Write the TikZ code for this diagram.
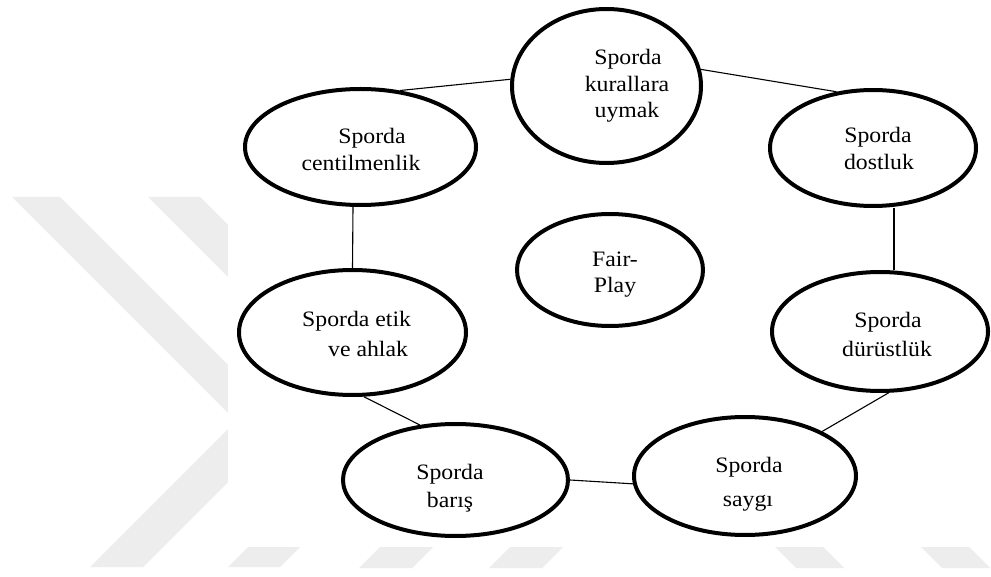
\documentclass[tikz,border=0pt]{standalone}
\usepackage{fontspec}
\setmainfont[FakeStretch=1.08]{Liberation Serif}
\usetikzlibrary{shapes.geometric,calc}
\tikzset{
  bubble/.style={ellipse, draw=black, line width=4pt, inner sep=0pt, fill=white},
  lbl/.style={inner sep=0pt, anchor=base, font=\fontsize{22}{27}\selectfont},
  lblw/.style={inner sep=0pt, anchor=base west, font=\fontsize{22}{27}\selectfont},
  link/.style={draw=black, line width=1.1pt},
  wmark/.style={fill=black!7, draw=none}
}
\begin{document}
\begin{tikzpicture}[x=1pt,y=-1pt]
\useasboundingbox (0,0) rectangle (991,577);
\fill[white] (0,0) rectangle (991,577);
% watermark
\fill[wmark] (12,197) -- (60,197) -- (286.5,423.5) -- (143,567) -- (90,567) -- (236,421) -- cycle;
\fill[wmark] (148,197) -- (200,197) -- (425,422) -- (280,567) -- (228,567) -- (373,422) -- cycle;
\fill[wmark] (380,547) -- (433,547) -- (412,568) -- (359,568) -- cycle;
\fill[wmark] (510,547) -- (563,547) -- (542,568) -- (489,568) -- cycle;
\fill[wmark] (775,547) -- (823,547) -- (844,568) -- (796,568) -- cycle;
\fill[wmark] (921,547) -- (969,547) -- (990,568) -- (942,568) -- cycle;
\fill[white] (228,0) rectangle (991,547);
% bubbles
\node[bubble, minimum width=189pt, minimum height=154pt] (kur) at (606.5,86) {};
\node[bubble, minimum width=231pt, minimum height=116pt] (cent) at (360.5,147) {};
\node[bubble, minimum width=206pt, minimum height=116pt] (dost) at (873,148) {};
\node[bubble, minimum width=216pt, minimum height=119pt] (dur) at (880,331.5) {};
\node[bubble, minimum width=227pt, minimum height=125pt] (etik) at (352.5,332.5) {};
\node[bubble, minimum width=225pt, minimum height=112pt] (baris) at (455.5,480) {};
\node[bubble, minimum width=222pt, minimum height=118pt] (saygi) at (745,476) {};
\node[bubble, minimum width=186pt, minimum height=112pt] (fair) at (610,270) {};
% connectors
\draw[link] (kur.176) -- (cent.55);
\draw[link] (kur.10) -- (dost.123);
\draw[link] ($(dost.south)+(21,0)$) -- ($(dur.north)+(14,0)$);
\draw[link] (dur.-82) -- (saygi.30);
\draw[link] (baris.east) -- (saygi.184);
\draw[link] (baris.123) -- (etik.-80);
\draw[link] ($(cent.south)+(-7.5,0)$) -- (etik.north);
% labels
\node[lbl] (kur1) at (628,65) {Sporda};
\node[lbl] (kur2) at (627,92) {kurallara};
\node[lbl] (kur3) at (627,118) {uymak};
\node[lbl] (cent1) at (372,144) {Sporda};
\node[lbl] (cent2) at (361,171) {centilmenlik};
\node[lbl] (dost1) at (878,143) {Sporda};
\node[lbl] (dost2) at (879,170) {dostluk};
\node[lbl] (dur1) at (888,328) {Sporda};
\node[lbl] (dur2) at (887,357) {dürüstlük};
\node[lblw] (etik1) at (302,327) {Sporda etik};
\node[lblw] (etik2) at (328,356) {ve ahlak};
\node[lbl] (baris1) at (450,479) {Sporda};
\node[lbl] (baris2) at (450,507) {barış};
\node[lbl] (saygi1) at (749,472) {Sporda};
\node[lbl] (saygi2) at (748,506) {saygı};
\node[lbl] (fair1) at (615,267) {Fair-};
\node[lbl] (fair2) at (615,293) {Play};
\end{tikzpicture}
\end{document}
